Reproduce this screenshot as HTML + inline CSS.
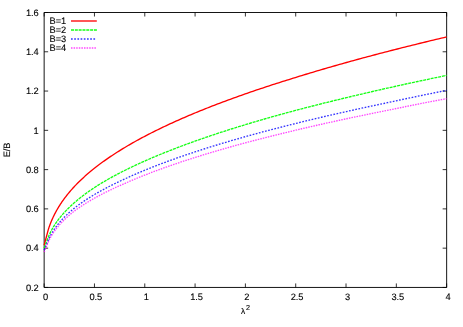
<!DOCTYPE html>
<html><head><meta charset="utf-8"><style>
html,body{margin:0;padding:0;background:#fff;overflow:hidden}
html{width:463px;height:327px}
body{width:463px;height:327px;position:relative;overflow:hidden;font-family:"Liberation Sans",sans-serif}
.t{position:absolute;font-size:9.3px;letter-spacing:-0.12px;line-height:12px;color:#000;white-space:nowrap;text-rendering:geometricPrecision;-webkit-text-stroke:0.12px #000}
#L{position:absolute;left:0;top:0;width:463px;height:327px;overflow:hidden;will-change:transform}
.xl{width:40px;text-align:center}
.yl{left:0;width:38.6px;text-align:right}
</style></head><body>
<svg width="463" height="327" viewBox="0 0 463 327" style="position:absolute;left:0;top:0">
<rect x="0" y="0" width="463" height="327" fill="#fff"/>
<path d="M44.15,287.45 v-4.0 M44.15,12.50 v4.0 M94.46,287.45 v-4.0 M94.46,12.50 v4.0 M144.78,287.45 v-4.0 M144.78,12.50 v4.0 M195.09,287.45 v-4.0 M195.09,12.50 v4.0 M245.40,287.45 v-4.0 M245.40,12.50 v4.0 M295.71,287.45 v-4.0 M295.71,12.50 v4.0 M346.02,287.45 v-4.0 M346.02,12.50 v4.0 M396.34,287.45 v-4.0 M396.34,12.50 v4.0 M446.65,287.45 v-4.0 M446.65,12.50 v4.0 M44.15,287.45 h4.0 M446.65,287.45 h-4.0 M44.15,248.17 h4.0 M446.65,248.17 h-4.0 M44.15,208.89 h4.0 M446.65,208.89 h-4.0 M44.15,169.61 h4.0 M446.65,169.61 h-4.0 M44.15,130.34 h4.0 M446.65,130.34 h-4.0 M44.15,91.06 h4.0 M446.65,91.06 h-4.0 M44.15,51.78 h4.0 M446.65,51.78 h-4.0 M44.15,12.50 h4.0 M446.65,12.50 h-4.0" fill="none" stroke="#111" stroke-width="0.85"/>
<path d="M44.15,12.50 H446.65 V287.45 H44.15 Z" fill="none" stroke="#000" stroke-width="0.92"/>
<path d="M44.15,245.23 L48.22,229.88 L48.45,229.14 L48.73,228.27 L49.02,227.40 L49.32,226.54 L49.63,225.67 L49.95,224.81 L50.27,223.94 L50.61,223.08 L50.95,222.21 L51.31,221.35 L51.67,220.49 L52.04,219.63 L52.42,218.78 L52.81,217.92 L53.21,217.07 L53.61,216.21 L54.03,215.36 L54.45,214.51 L54.89,213.67 L55.33,212.82 L55.78,211.98 L56.24,211.13 L56.71,210.29 L57.19,209.46 L57.68,208.62 L58.17,207.78 L58.68,206.95 L59.19,206.12 L59.72,205.29 L60.25,204.46 L60.79,203.64 L61.34,202.81 L61.90,201.99 L62.47,201.17 L63.05,200.35 L63.63,199.54 L64.23,198.72 L64.83,197.91 L65.44,197.10 L66.06,196.29 L66.69,195.48 L67.33,194.67 L67.98,193.87 L68.64,193.06 L69.31,192.26 L69.98,191.46 L70.67,190.66 L71.36,189.87 L72.06,189.07 L72.77,188.28 L73.49,187.49 L74.22,186.70 L74.96,185.91 L75.71,185.13 L76.46,184.35 L77.23,183.57 L78.00,182.79 L78.78,182.02 L79.57,181.24 L80.38,180.47 L81.18,179.70 L82.00,178.93 L82.83,178.16 L83.67,177.39 L84.51,176.63 L85.37,175.86 L86.23,175.10 L87.10,174.34 L87.98,173.58 L88.87,172.82 L89.77,172.06 L90.68,171.30 L91.60,170.55 L92.52,169.79 L93.46,169.04 L94.40,168.29 L95.35,167.54 L96.31,166.79 L97.28,166.04 L98.26,165.29 L99.25,164.55 L100.25,163.80 L101.26,163.06 L102.27,162.32 L103.30,161.58 L104.33,160.84 L105.37,160.10 L106.42,159.36 L107.48,158.62 L108.55,157.89 L109.63,157.15 L110.71,156.42 L111.81,155.69 L112.91,154.96 L114.03,154.23 L115.15,153.50 L116.28,152.77 L117.42,152.04 L118.57,151.32 L119.73,150.59 L120.90,149.87 L122.07,149.15 L123.26,148.42 L124.45,147.70 L125.66,146.98 L126.87,146.26 L128.09,145.55 L129.32,144.83 L130.56,144.11 L131.81,143.40 L133.06,142.68 L134.33,141.97 L135.60,141.26 L136.89,140.54 L138.18,139.83 L139.48,139.12 L140.79,138.42 L142.11,137.71 L143.44,137.00 L144.78,136.29 L146.12,135.59 L147.48,134.88 L148.84,134.18 L150.21,133.48 L151.60,132.78 L152.99,132.07 L154.39,131.37 L155.79,130.67 L157.21,129.98 L158.64,129.28 L160.07,128.58 L161.52,127.88 L162.97,127.19 L164.43,126.49 L165.91,125.80 L167.39,125.11 L168.88,124.42 L170.37,123.72 L171.88,123.03 L173.40,122.34 L174.92,121.65 L176.46,120.96 L178.00,120.28 L179.55,119.59 L181.11,118.90 L182.68,118.21 L184.26,117.53 L185.85,116.84 L187.44,116.16 L189.05,115.48 L190.66,114.79 L192.29,114.11 L193.92,113.43 L195.56,112.75 L197.21,112.07 L198.87,111.39 L200.54,110.71 L202.22,110.03 L203.90,109.36 L205.60,108.68 L207.30,108.00 L209.01,107.33 L210.74,106.65 L212.47,105.98 L214.21,105.31 L215.95,104.63 L217.71,103.96 L219.48,103.29 L221.25,102.62 L223.04,101.95 L224.83,101.28 L226.63,100.61 L228.45,99.94 L230.27,99.28 L232.10,98.61 L233.93,97.94 L235.78,97.28 L237.64,96.61 L239.50,95.95 L241.37,95.28 L243.26,94.62 L245.15,93.96 L247.05,93.30 L248.96,92.63 L250.88,91.97 L252.81,91.31 L254.74,90.65 L256.69,89.99 L258.64,89.34 L260.61,88.68 L262.58,88.02 L264.56,87.36 L266.55,86.71 L268.55,86.05 L270.56,85.40 L272.57,84.74 L274.60,84.09 L276.63,83.43 L278.68,82.78 L280.73,82.13 L282.79,81.48 L284.86,80.82 L286.94,80.17 L289.03,79.51 L291.13,78.84 L293.23,78.18 L295.35,77.53 L297.47,76.87 L299.61,76.21 L301.75,75.55 L303.90,74.89 L306.06,74.24 L308.23,73.58 L310.41,72.92 L312.60,72.27 L314.79,71.61 L317.00,70.96 L319.21,70.30 L321.43,69.65 L323.66,69.00 L325.90,68.34 L328.15,67.69 L330.41,67.04 L332.68,66.39 L334.96,65.74 L337.24,65.09 L339.54,64.44 L341.84,63.79 L344.15,63.14 L346.47,62.49 L348.80,61.85 L351.14,61.20 L353.49,60.55 L355.85,59.91 L358.21,59.26 L360.59,58.61 L362.97,57.97 L365.36,57.32 L367.76,56.68 L370.18,56.04 L372.59,55.39 L375.02,54.75 L377.46,54.11 L379.91,53.47 L382.36,52.82 L384.83,52.18 L387.30,51.54 L389.78,50.90 L392.27,50.26 L394.77,49.62 L397.28,48.99 L399.80,48.35 L402.33,47.71 L404.86,47.07 L407.41,46.43 L409.96,45.80 L412.52,45.16 L415.09,44.53 L417.67,43.89 L420.26,43.26 L422.86,42.62 L425.47,41.99 L428.09,41.36 L430.71,40.72 L433.35,40.09 L435.99,39.46 L438.64,38.83 L441.30,38.20 L443.97,37.57 L446.65,36.94" fill="none" stroke="#ff0000" stroke-width="1.33" stroke-linejoin="round" />
<path d="M44.15,248.17 L48.22,237.27 L48.45,236.70 L48.73,236.03 L49.02,235.36 L49.32,234.68 L49.63,234.01 L49.95,233.34 L50.27,232.66 L50.61,231.99 L50.95,231.31 L51.31,230.64 L51.67,229.96 L52.04,229.29 L52.42,228.61 L52.81,227.94 L53.21,227.26 L53.61,226.59 L54.03,225.92 L54.45,225.24 L54.89,224.57 L55.33,223.90 L55.78,223.23 L56.24,222.56 L56.71,221.89 L57.19,221.22 L57.68,220.56 L58.17,219.89 L58.68,219.22 L59.19,218.56 L59.72,217.89 L60.25,217.23 L60.79,216.57 L61.34,215.91 L61.90,215.24 L62.47,214.58 L63.05,213.92 L63.63,213.27 L64.23,212.61 L64.83,211.95 L65.44,211.30 L66.06,210.64 L66.69,209.99 L67.33,209.33 L67.98,208.68 L68.64,208.03 L69.31,207.38 L69.98,206.73 L70.67,206.08 L71.36,205.43 L72.06,204.78 L72.77,204.14 L73.49,203.49 L74.22,202.84 L74.96,202.20 L75.71,201.56 L76.46,200.91 L77.23,200.27 L78.00,199.63 L78.78,198.99 L79.57,198.35 L80.38,197.71 L81.18,197.07 L82.00,196.44 L82.83,195.80 L83.67,195.17 L84.51,194.53 L85.37,193.90 L86.23,193.26 L87.10,192.63 L87.98,192.00 L88.87,191.37 L89.77,190.74 L90.68,190.11 L91.60,189.48 L92.52,188.85 L93.46,188.22 L94.40,187.59 L95.35,186.98 L96.31,186.36 L97.28,185.75 L98.26,185.13 L99.25,184.52 L100.25,183.90 L101.26,183.29 L102.27,182.68 L103.30,182.07 L104.33,181.46 L105.37,180.85 L106.42,180.24 L107.48,179.63 L108.55,179.02 L109.63,178.42 L110.71,177.81 L111.81,177.20 L112.91,176.60 L114.03,175.99 L115.15,175.39 L116.28,174.79 L117.42,174.18 L118.57,173.58 L119.73,172.98 L120.90,172.38 L122.07,171.78 L123.26,171.18 L124.45,170.58 L125.66,169.98 L126.87,169.38 L128.09,168.78 L129.32,168.18 L130.56,167.59 L131.81,166.99 L133.06,166.39 L134.33,165.80 L135.60,165.20 L136.89,164.61 L138.18,164.02 L139.48,163.42 L140.79,162.83 L142.11,162.23 L143.44,161.63 L144.78,161.03 L146.12,160.44 L147.48,159.84 L148.84,159.25 L150.21,158.65 L151.60,158.06 L152.99,157.46 L154.39,156.87 L155.79,156.28 L157.21,155.69 L158.64,155.09 L160.07,154.50 L161.52,153.91 L162.97,153.32 L164.43,152.73 L165.91,152.14 L167.39,151.55 L168.88,150.97 L170.37,150.38 L171.88,149.79 L173.40,149.20 L174.92,148.62 L176.46,148.02 L178.00,147.43 L179.55,146.84 L181.11,146.25 L182.68,145.66 L184.26,145.08 L185.85,144.49 L187.44,143.90 L189.05,143.31 L190.66,142.72 L192.29,142.14 L193.92,141.55 L195.56,140.96 L197.21,140.38 L198.87,139.79 L200.54,139.21 L202.22,138.62 L203.90,138.04 L205.60,137.46 L207.30,136.87 L209.01,136.29 L210.74,135.71 L212.47,135.13 L214.21,134.55 L215.95,133.96 L217.71,133.38 L219.48,132.80 L221.25,132.22 L223.04,131.64 L224.83,131.06 L226.63,130.49 L228.45,129.91 L230.27,129.33 L232.10,128.75 L233.93,128.17 L235.78,127.60 L237.64,127.02 L239.50,126.44 L241.37,125.87 L243.26,125.29 L245.15,124.72 L247.05,124.14 L248.96,123.57 L250.88,122.99 L252.81,122.42 L254.74,121.85 L256.69,121.27 L258.64,120.70 L260.61,120.13 L262.58,119.56 L264.56,118.99 L266.55,118.41 L268.55,117.84 L270.56,117.27 L272.57,116.70 L274.60,116.13 L276.63,115.56 L278.68,114.99 L280.73,114.42 L282.79,113.86 L284.86,113.29 L286.94,112.72 L289.03,112.16 L291.13,111.60 L293.23,111.04 L295.35,110.48 L297.47,109.91 L299.61,109.35 L301.75,108.79 L303.90,108.23 L306.06,107.67 L308.23,107.11 L310.41,106.55 L312.60,106.00 L314.79,105.44 L317.00,104.88 L319.21,104.32 L321.43,103.76 L323.66,103.21 L325.90,102.65 L328.15,102.09 L330.41,101.53 L332.68,100.98 L334.96,100.42 L337.24,99.87 L339.54,99.31 L341.84,98.76 L344.15,98.20 L346.47,97.65 L348.80,97.09 L351.14,96.52 L353.49,95.96 L355.85,95.40 L358.21,94.84 L360.59,94.28 L362.97,93.72 L365.36,93.17 L367.76,92.61 L370.18,92.05 L372.59,91.49 L375.02,90.93 L377.46,90.37 L379.91,89.82 L382.36,89.26 L384.83,88.70 L387.30,88.15 L389.78,87.59 L392.27,87.03 L394.77,86.48 L397.28,85.92 L399.80,85.37 L402.33,84.81 L404.86,84.26 L407.41,83.70 L409.96,83.15 L412.52,82.59 L415.09,82.04 L417.67,81.49 L420.26,80.93 L422.86,80.38 L425.47,79.83 L428.09,79.28 L430.71,78.72 L433.35,78.17 L435.99,77.62 L438.64,77.06 L441.30,76.49 L443.97,75.93 L446.65,75.37" fill="none" stroke="#00ff00" stroke-width="1.33" stroke-linejoin="round" stroke-dasharray="3 0.82" stroke-opacity="0.92"/>
<path d="M44.15,250.14 L48.22,240.40 L48.45,239.86 L48.73,239.22 L49.02,238.58 L49.32,237.94 L49.63,237.31 L49.95,236.67 L50.27,236.03 L50.61,235.39 L50.95,234.76 L51.31,234.12 L51.67,233.49 L52.04,232.85 L52.42,232.22 L52.81,231.59 L53.21,230.96 L53.61,230.33 L54.03,229.70 L54.45,229.07 L54.89,228.44 L55.33,227.82 L55.78,227.19 L56.24,226.57 L56.71,225.94 L57.19,225.32 L57.68,224.70 L58.17,224.08 L58.68,223.46 L59.19,222.84 L59.72,222.22 L60.25,221.60 L60.79,220.99 L61.34,220.37 L61.90,219.76 L62.47,219.15 L63.05,218.53 L63.63,217.92 L64.23,217.31 L64.83,216.70 L65.44,216.10 L66.06,215.49 L66.69,214.88 L67.33,214.28 L67.98,213.67 L68.64,213.07 L69.31,212.47 L69.98,211.86 L70.67,211.26 L71.36,210.66 L72.06,210.06 L72.77,209.47 L73.49,208.87 L74.22,208.27 L74.96,207.69 L75.71,207.11 L76.46,206.53 L77.23,205.96 L78.00,205.38 L78.78,204.81 L79.57,204.23 L80.38,203.66 L81.18,203.09 L82.00,202.51 L82.83,201.94 L83.67,201.37 L84.51,200.80 L85.37,200.23 L86.23,199.67 L87.10,199.10 L87.98,198.53 L88.87,197.97 L89.77,197.40 L90.68,196.83 L91.60,196.27 L92.52,195.71 L93.46,195.14 L94.40,194.58 L95.35,194.02 L96.31,193.46 L97.28,192.90 L98.26,192.34 L99.25,191.78 L100.25,191.22 L101.26,190.67 L102.27,190.11 L103.30,189.55 L104.33,189.00 L105.37,188.44 L106.42,187.89 L107.48,187.34 L108.55,186.78 L109.63,186.23 L110.71,185.68 L111.81,185.13 L112.91,184.58 L114.03,184.03 L115.15,183.48 L116.28,182.93 L117.42,182.38 L118.57,181.83 L119.73,181.28 L120.90,180.74 L122.07,180.19 L123.26,179.64 L124.45,179.10 L125.66,178.54 L126.87,177.98 L128.09,177.42 L129.32,176.87 L130.56,176.31 L131.81,175.75 L133.06,175.20 L134.33,174.64 L135.60,174.09 L136.89,173.53 L138.18,172.98 L139.48,172.43 L140.79,171.87 L142.11,171.32 L143.44,170.77 L144.78,170.22 L146.12,169.67 L147.48,169.11 L148.84,168.56 L150.21,168.01 L151.60,167.47 L152.99,166.92 L154.39,166.37 L155.79,165.82 L157.21,165.27 L158.64,164.73 L160.07,164.18 L161.52,163.63 L162.97,163.09 L164.43,162.54 L165.91,162.00 L167.39,161.45 L168.88,160.91 L170.37,160.37 L171.88,159.82 L173.40,159.28 L174.92,158.74 L176.46,158.19 L178.00,157.65 L179.55,157.11 L181.11,156.56 L182.68,156.02 L184.26,155.48 L185.85,154.94 L187.44,154.39 L189.05,153.85 L190.66,153.31 L192.29,152.77 L193.92,152.23 L195.56,151.69 L197.21,151.15 L198.87,150.61 L200.54,150.07 L202.22,149.54 L203.90,149.00 L205.60,148.46 L207.30,147.92 L209.01,147.39 L210.74,146.85 L212.47,146.31 L214.21,145.78 L215.95,145.24 L217.71,144.71 L219.48,144.17 L221.25,143.64 L223.04,143.11 L224.83,142.57 L226.63,142.04 L228.45,141.51 L230.27,140.97 L232.10,140.44 L233.93,139.91 L235.78,139.38 L237.64,138.85 L239.50,138.32 L241.37,137.79 L243.26,137.26 L245.15,136.73 L247.05,136.20 L248.96,135.67 L250.88,135.14 L252.81,134.61 L254.74,134.08 L256.69,133.56 L258.64,133.03 L260.61,132.50 L262.58,131.97 L264.56,131.45 L266.55,130.92 L268.55,130.39 L270.56,129.87 L272.57,129.34 L274.60,128.82 L276.63,128.29 L278.68,127.77 L280.73,127.25 L282.79,126.72 L284.86,126.20 L286.94,125.67 L289.03,125.15 L291.13,124.62 L293.23,124.09 L295.35,123.57 L297.47,123.04 L299.61,122.51 L301.75,121.99 L303.90,121.46 L306.06,120.94 L308.23,120.41 L310.41,119.89 L312.60,119.36 L314.79,118.84 L317.00,118.32 L319.21,117.79 L321.43,117.27 L323.66,116.75 L325.90,116.22 L328.15,115.70 L330.41,115.18 L332.68,114.66 L334.96,114.14 L337.24,113.62 L339.54,113.10 L341.84,112.57 L344.15,112.05 L346.47,111.53 L348.80,111.01 L351.14,110.50 L353.49,109.98 L355.85,109.46 L358.21,108.94 L360.59,108.42 L362.97,107.90 L365.36,107.38 L367.76,106.87 L370.18,106.35 L372.59,105.83 L375.02,105.31 L377.46,104.80 L379.91,104.28 L382.36,103.76 L384.83,103.25 L387.30,102.72 L389.78,102.18 L392.27,101.64 L394.77,101.10 L397.28,100.56 L399.80,100.02 L402.33,99.48 L404.86,98.94 L407.41,98.41 L409.96,97.87 L412.52,97.33 L415.09,96.79 L417.67,96.25 L420.26,95.72 L422.86,95.18 L425.47,94.64 L428.09,94.10 L430.71,93.57 L433.35,93.03 L435.99,92.50 L438.64,91.96 L441.30,91.42 L443.97,90.89 L446.65,90.35" fill="none" stroke="#0000ff" stroke-width="1.33" stroke-linejoin="round" stroke-dasharray="1.7 1.5" stroke-opacity="0.8"/>
<path d="M44.15,252.10 L48.22,242.17 L48.45,241.64 L48.73,241.02 L49.02,240.39 L49.32,239.77 L49.63,239.15 L49.95,238.53 L50.27,237.91 L50.61,237.30 L50.95,236.68 L51.31,236.06 L51.67,235.45 L52.04,234.83 L52.42,234.22 L52.81,233.61 L53.21,233.00 L53.61,232.39 L54.03,231.78 L54.45,231.18 L54.89,230.57 L55.33,229.97 L55.78,229.36 L56.24,228.76 L56.71,228.16 L57.19,227.56 L57.68,226.96 L58.17,226.36 L58.68,225.77 L59.19,225.17 L59.72,224.58 L60.25,223.98 L60.79,223.39 L61.34,222.80 L61.90,222.21 L62.47,221.62 L63.05,221.03 L63.63,220.44 L64.23,219.86 L64.83,219.27 L65.44,218.69 L66.06,218.11 L66.69,217.52 L67.33,216.94 L67.98,216.36 L68.64,215.78 L69.31,215.20 L69.98,214.63 L70.67,214.05 L71.36,213.47 L72.06,212.90 L72.77,212.32 L73.49,211.75 L74.22,211.18 L74.96,210.63 L75.71,210.08 L76.46,209.53 L77.23,208.99 L78.00,208.44 L78.78,207.90 L79.57,207.35 L80.38,206.81 L81.18,206.27 L82.00,205.73 L82.83,205.18 L83.67,204.65 L84.51,204.11 L85.37,203.57 L86.23,203.03 L87.10,202.49 L87.98,201.96 L88.87,201.42 L89.77,200.89 L90.68,200.35 L91.60,199.82 L92.52,199.29 L93.46,198.75 L94.40,198.22 L95.35,197.69 L96.31,197.16 L97.28,196.63 L98.26,196.11 L99.25,195.58 L100.25,195.05 L101.26,194.52 L102.27,194.00 L103.30,193.47 L104.33,192.95 L105.37,192.42 L106.42,191.90 L107.48,191.38 L108.55,190.85 L109.63,190.33 L110.71,189.81 L111.81,189.29 L112.91,188.77 L114.03,188.25 L115.15,187.73 L116.28,187.21 L117.42,186.70 L118.57,186.18 L119.73,185.66 L120.90,185.15 L122.07,184.63 L123.26,184.12 L124.45,183.60 L125.66,183.07 L126.87,182.53 L128.09,182.00 L129.32,181.46 L130.56,180.93 L131.81,180.40 L133.06,179.86 L134.33,179.33 L135.60,178.80 L136.89,178.26 L138.18,177.73 L139.48,177.20 L140.79,176.67 L142.11,176.14 L143.44,175.61 L144.78,175.08 L146.12,174.56 L147.48,174.03 L148.84,173.50 L150.21,172.97 L151.60,172.45 L152.99,171.92 L154.39,171.39 L155.79,170.87 L157.21,170.34 L158.64,169.82 L160.07,169.30 L161.52,168.77 L162.97,168.25 L164.43,167.73 L165.91,167.21 L167.39,166.68 L168.88,166.16 L170.37,165.64 L171.88,165.12 L173.40,164.60 L174.92,164.08 L176.46,163.56 L178.00,163.03 L179.55,162.51 L181.11,161.99 L182.68,161.47 L184.26,160.94 L185.85,160.42 L187.44,159.90 L189.05,159.38 L190.66,158.86 L192.29,158.34 L193.92,157.82 L195.56,157.30 L197.21,156.78 L198.87,156.26 L200.54,155.75 L202.22,155.23 L203.90,154.71 L205.60,154.19 L207.30,153.68 L209.01,153.16 L210.74,152.65 L212.47,152.13 L214.21,151.61 L215.95,151.10 L217.71,150.59 L219.48,150.07 L221.25,149.56 L223.04,149.04 L224.83,148.53 L226.63,148.02 L228.45,147.51 L230.27,146.99 L232.10,146.48 L233.93,145.97 L235.78,145.46 L237.64,144.95 L239.50,144.44 L241.37,143.93 L243.26,143.42 L245.15,142.91 L247.05,142.40 L248.96,141.89 L250.88,141.38 L252.81,140.88 L254.74,140.37 L256.69,139.86 L258.64,139.35 L260.61,138.85 L262.58,138.34 L264.56,137.84 L266.55,137.33 L268.55,136.82 L270.56,136.32 L272.57,135.81 L274.60,135.31 L276.63,134.81 L278.68,134.30 L280.73,133.80 L282.79,133.29 L284.86,132.79 L286.94,132.29 L289.03,131.78 L291.13,131.28 L293.23,130.78 L295.35,130.27 L297.47,129.77 L299.61,129.27 L301.75,128.76 L303.90,128.26 L306.06,127.76 L308.23,127.26 L310.41,126.76 L312.60,126.25 L314.79,125.75 L317.00,125.25 L319.21,124.75 L321.43,124.25 L323.66,123.75 L325.90,123.25 L328.15,122.75 L330.41,122.25 L332.68,121.76 L334.96,121.26 L337.24,120.76 L339.54,120.26 L341.84,119.76 L344.15,119.27 L346.47,118.77 L348.80,118.27 L351.14,117.78 L353.49,117.28 L355.85,116.78 L358.21,116.29 L360.59,115.79 L362.97,115.30 L365.36,114.80 L367.76,114.31 L370.18,113.81 L372.59,113.32 L375.02,112.82 L377.46,112.33 L379.91,111.84 L382.36,111.34 L384.83,110.85 L387.30,110.35 L389.78,109.84 L392.27,109.33 L394.77,108.82 L397.28,108.31 L399.80,107.80 L402.33,107.29 L404.86,106.78 L407.41,106.27 L409.96,105.76 L412.52,105.25 L415.09,104.74 L417.67,104.23 L420.26,103.72 L422.86,103.22 L425.47,102.71 L428.09,102.20 L430.71,101.69 L433.35,101.19 L435.99,100.68 L438.64,100.17 L441.30,99.67 L443.97,99.16 L446.65,98.65" fill="none" stroke="#ff00ff" stroke-width="1.33" stroke-linejoin="round" stroke-dasharray="1.5 1.1" stroke-opacity="0.72"/>
<path d="M71,21.0 H96.8" fill="none" stroke="#ff0000" stroke-width="1.33" />
<path d="M71,30.0 H97.2" fill="none" stroke="#00ff00" stroke-width="1.33" stroke-dasharray="3 0.82" stroke-opacity="0.92"/>
<path d="M71,39.0 H95.3" fill="none" stroke="#0000ff" stroke-width="1.33" stroke-dasharray="1.7 1.5" stroke-opacity="0.8"/>
<path d="M71,48.0 H96.0" fill="none" stroke="#ff00ff" stroke-width="1.33" stroke-dasharray="1.5 1.1" stroke-opacity="0.72"/>
</svg>
<div id="L">
<div class="t xl" style="left:25.55px;top:290.5px">0</div>
<div class="t xl" style="left:75.86px;top:290.5px">0.5</div>
<div class="t xl" style="left:126.18px;top:290.5px">1</div>
<div class="t xl" style="left:176.49px;top:290.5px">1.5</div>
<div class="t xl" style="left:226.80px;top:290.5px">2</div>
<div class="t xl" style="left:277.11px;top:290.5px">2.5</div>
<div class="t xl" style="left:327.42px;top:290.5px">3</div>
<div class="t xl" style="left:377.74px;top:290.5px">3.5</div>
<div class="t xl" style="left:428.05px;top:290.5px">4</div>
<div class="t yl" style="top:281.65px">0.2</div>
<div class="t yl" style="top:242.37px">0.4</div>
<div class="t yl" style="top:203.09px">0.6</div>
<div class="t yl" style="top:163.81px">0.8</div>
<div class="t yl" style="top:124.54px">1</div>
<div class="t yl" style="top:85.26px">1.2</div>
<div class="t yl" style="top:45.98px">1.4</div>
<div class="t yl" style="top:6.70px">1.6</div>
<div class="t" style="left:49.6px;top:14.7px">B=1</div>
<div class="t" style="left:49.6px;top:23.7px">B=2</div>
<div class="t" style="left:49.6px;top:32.7px">B=3</div>
<div class="t" style="left:49.6px;top:41.7px">B=4</div>
<div class="t" style="left:240.9px;top:305.4px;font-size:8.3px">λ</div>
<div class="t" style="left:245.9px;top:301.6px;font-size:7.2px">2</div>
<div class="t" style="left:-8.3px;top:144.3px;width:30px;text-align:center;transform:rotate(-90deg)">E/B</div>
</div>
</body></html>
